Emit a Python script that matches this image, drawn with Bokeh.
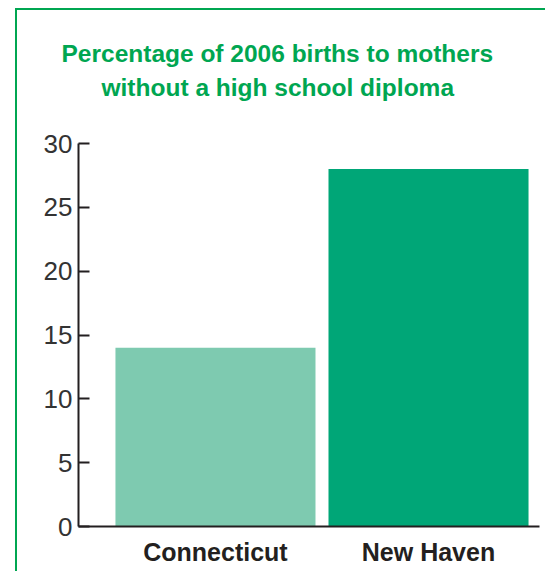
from bokeh.plotting import figure
from bokeh.models import Range1d, FixedTicker, Title
from bokeh.embed import file_html
from bokeh.resources import INLINE

# ---- data ----
categories = ["Connecticut", "New Haven"]
values = [14, 28]
bar_colors = ["#7ECAB0", "#00A677"]
y_ticks = [0, 5, 10, 15, 20, 25, 30]
title_lines = ["Percentage of 2006 births to mothers", "without a high school diploma"]

GREEN = "#00A651"
DARK = "#231F20"
positions = list(range(len(categories)))

p = figure(width=530, height=563, output_backend="svg", toolbar_location=None,
           x_range=Range1d(-0.643, 1.521), y_range=Range1d(0, 30),
           min_border_left=61, min_border_right=8, min_border_top=133, min_border_bottom=47)
p.title = None
p.margin = (8, 0, 0, 15)
p.styles = {"border-left": f"2px solid {GREEN}", "border-top": f"2px solid {GREEN}"}
p.outline_line_color = None
p.xgrid.visible = False
p.ygrid.visible = False
p.background_fill_color = "white"
p.border_fill_color = "white"

p.vbar(x=positions, top=values, bottom=0, width=0.939, fill_color=bar_colors, line_color=None)

# x axis
xa = p.xaxis[0]
xa.ticker = FixedTicker(ticks=positions)
xa.major_label_overrides = {i: c for i, c in zip(positions, categories)}
xa.major_tick_in = 0
xa.major_tick_out = 0
xa.minor_tick_line_color = None
xa.axis_line_color = DARK
xa.axis_line_width = 2
xa.major_label_text_font = "Liberation Sans"
xa.major_label_text_font_style = "bold"
xa.major_label_text_font_size = "25px"
xa.major_label_text_color = DARK
xa.major_label_standoff = 11

# y axis
ya = p.yaxis[0]
ya.ticker = FixedTicker(ticks=y_ticks)
ya.major_tick_in = 11
ya.major_tick_out = 0
ya.major_tick_line_width = 2
ya.major_tick_line_color = DARK
ya.minor_tick_line_color = None
ya.axis_line_color = DARK
ya.axis_line_width = 2
ya.major_label_text_font = "Liberation Sans"
ya.major_label_text_font_size = "26px"
ya.major_label_text_color = "#333333"
ya.major_label_standoff = 6

TITLE_STYLE = dict(text_font="Liberation Sans", text_font_style="bold",
                   text_font_size="24.5px", text_color=GREEN)

# spacer between the frame and the title block
p.add_layout(Title(text=" ", standoff=14, **TITLE_STYLE), "above")
# two-line title: second line nearest the frame, added first
for txt, off, so in zip(reversed(title_lines), [23, -17], [0, 10]):
    p.add_layout(Title(text=txt, align="left", offset=off, standoff=so, **TITLE_STYLE), "above")

open("out.html", "w").write(file_html(p, INLINE))
